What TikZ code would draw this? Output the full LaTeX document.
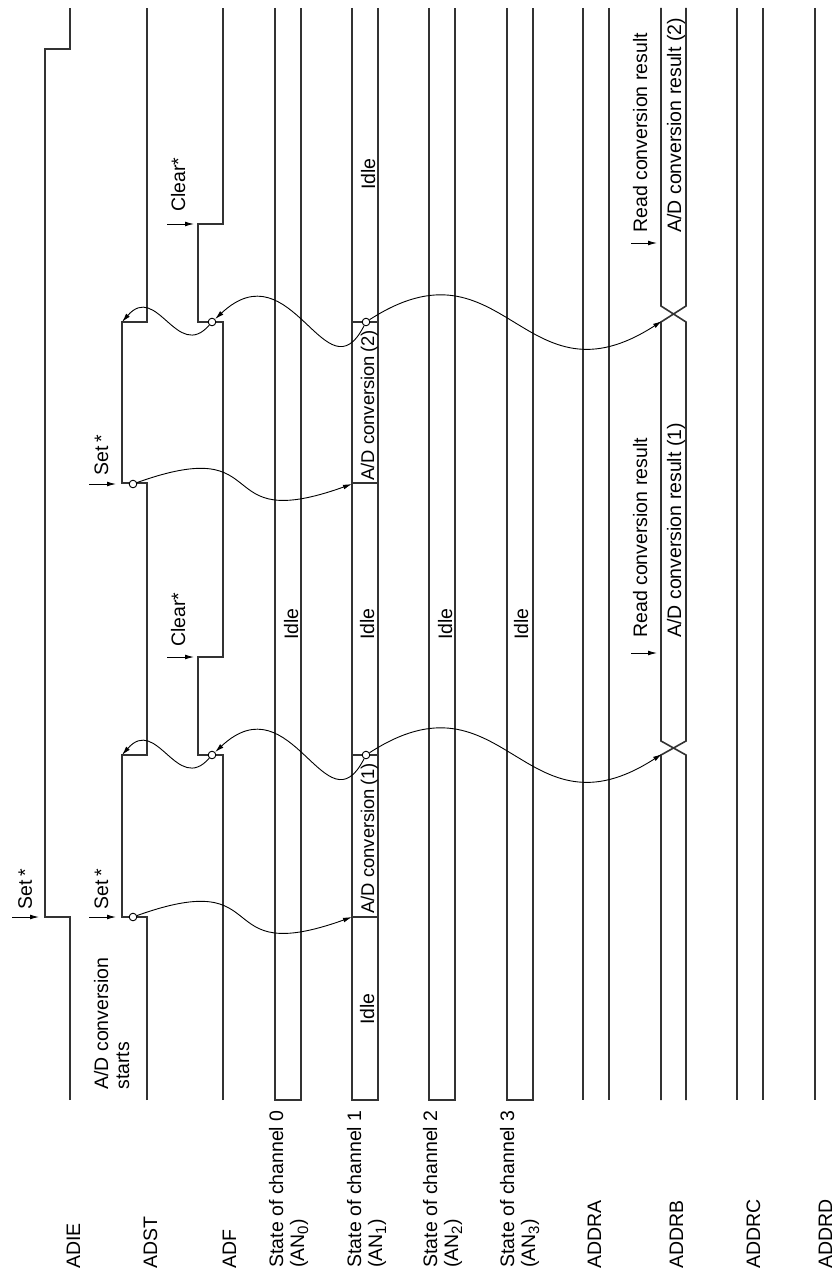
\documentclass[tikz,border=0pt]{standalone}
\usepackage{fontspec}
\setmainfont{Liberation Sans}
\usetikzlibrary{arrows.meta, calc}

\begin{document}
\begin{tikzpicture}[x=0.5pt, y=-0.5pt,
  font=\fontsize{9.75}{10.5}\selectfont,
  wave/.style={line width=0.8pt, draw=black!80},
  link/.style={line width=0.45pt, -{Latex[length=4.5pt,width=2.4pt]}},
  cue/.style={line width=0.45pt, -{Latex[length=4.5pt,width=2.4pt]}},
  ring/.style={circle, draw, line width=0.45pt, fill=white,
               inner sep=0pt, minimum size=3.8pt},
  vlabel/.style={rotate=90, anchor=base west, inner sep=0pt, align=left},
  convtext/.style={vlabel, font=\fontsize{9.2}{10.5}\selectfont}]

\useasboundingbox (0,0) rectangle (834,1273);

% ===== CONTROL BITS: ADIE, ADST, ADF =====
\draw[wave] (70,1100) -- (70,917) -- (45,917) -- (45,49) -- (70,49) -- (70,8);
\draw[wave] (147,1100) -- (147,917) -- (122,917) -- (122,755) -- (147,755)
   -- (147,483) -- (122,483) -- (122,322) -- (147,322) -- (147,8);
\draw[wave] (223,1100) -- (223,755) -- (198,755) -- (198,657) -- (223,657)
   -- (223,322) -- (198,322) -- (198,224) -- (223,224) -- (223,8);

% ===== CHANNEL STATES =====
\foreach \x in {275,352,429,507}
  \draw[wave] (\x,8) |- ({\x+26},1100) -- ({\x+26},8);
\foreach \y in {917,755,483,322}
  \draw[wave] (352,\y) -- (378,\y);

% ===== DATA REGISTERS =====
\foreach \x in {583,737}
  \draw[wave] (\x,8) -- (\x,1100) ({\x+26},8) -- ({\x+26},1100);
\draw[wave] (815,8) -- (815,1100);
\draw[wave] (661,1100) -- (661,755) -- (686,741) -- (686,322) -- (661,306) -- (661,8);
\draw[wave] (686,1100) -- (686,755) -- (661,741) -- (661,322) -- (686,306) -- (686,8);

% ===== EVENT POINTS =====
\node[ring] (stR1) at (133,917) {};
\node[ring] (flR1) at (212,755) {};
\node[ring] (cvR1) at (366,755) {};
\node[ring] (stR2) at (133,484) {};
\node[ring] (flR2) at (212,322) {};
\node[ring] (cvR2) at (366,322) {};
\coordinate (cvS1) at (352,917);
\coordinate (stC1) at (122,755);
\coordinate (rbX1) at (662,754);
\coordinate (cvS2) at (352,484);
\coordinate (stC2) at (122,322);
\coordinate (rbX2) at (662,321);

% ===== FIRST CONVERSION =====
\draw[link] (stR1) .. controls +(145,-52) and +(-145,52) .. (cvS1);
\draw[link] (flR1) .. controls +(-35,40) and +(35,-40) .. (stC1);
\draw[link] (cvR1) .. controls +(-40,78) and +(80,-75) .. (flR1);
\draw[link] (cvR1) .. controls +(139,-90) and +(-139,90) .. (rbX1);

% ===== SECOND CONVERSION =====
\draw[link] (stR2) .. controls +(145,-52) and +(-145,52) .. (cvS2);
\draw[link] (flR2) .. controls +(-35,40) and +(35,-40) .. (stC2);
\draw[link] (cvR2) .. controls +(-40,78) and +(80,-75) .. (flR2);
\draw[link] (cvR2) .. controls +(139,-90) and +(-139,90) .. (rbX2);

% ===== SET / CLEAR / READ CUES =====
\draw[cue] (12,917) -- (39,917);
\node[vlabel] (setIE) at (32,910) {Set\hspace{2pt}*};
\draw[cue] (89,917) -- (116,917);
\node[vlabel] (setST1) at (108,910) {Set\hspace{2pt}*};
\draw[cue] (167,657) -- (194,657);
\node[vlabel] (clrF1) at (185,647) {Clear*};
\draw[cue] (89,484) -- (116,484);
\node[vlabel] (setST2) at (108,476) {Set\hspace{2pt}*};
\draw[cue] (167,224) -- (194,224);
\node[vlabel] (clrF2) at (185,212) {Clear*};
\draw[cue] (631,653) -- (657,653);
\node[vlabel] (read1) at (647,638) {Read conversion result};
\draw[cue] (631,243) -- (657,243);
\node[vlabel] (read2) at (647,233) {Read conversion result};

% ===== STATE TEXTS =====
\node[vlabel] (idle0) at (298,640) {Idle};
\node[vlabel] (idle1a) at (374,1025) {Idle};
\node[convtext] (conv1) at (374,914) {A/D conversion\,(1)};
\node[vlabel] (idle1b) at (374,640) {Idle};
\node[convtext] (conv2) at (374,481) {A/D conversion\,(2)};
\node[vlabel] (idle1c) at (375,190) {Idle};
\node[vlabel] (idle2) at (452,640) {Idle};
\node[vlabel] (idle3) at (528,640) {Idle};
\node[vlabel] (res1) at (681,638) {A/D conversion result (1)};
\node[vlabel] (res2) at (681,233) {A/D conversion result (2)};
\node[vlabel] (start) at (129,1090) {A/D conversion\\starts};

% ===== SIGNAL NAMES =====
\node[vlabel] (nADIE) at (80,1269) {ADIE};
\node[vlabel] (nADST) at (157,1269) {ADST};
\node[vlabel] (nADF) at (236,1269) {ADF};
\node[vlabel] (nCh0) at (304,1268) {State of channel 0\\(AN\raisebox{-2pt}{\fontsize{7.5}{8}\selectfont 0})};
\node[vlabel] (nCh1) at (382,1268) {State of channel 1\\(AN\raisebox{-2pt}{\fontsize{7.5}{8}\selectfont 1})};
\node[vlabel] (nCh2) at (458,1268) {State of channel 2\\(AN\raisebox{-2pt}{\fontsize{7.5}{8}\selectfont 2})};
\node[vlabel] (nCh3) at (535,1268) {State of channel 3\\(AN\raisebox{-2pt}{\fontsize{7.5}{8}\selectfont 3})};
\node[vlabel] (nA) at (601,1269) {ADDRA};
\node[vlabel] (nB) at (683,1269) {ADDRB};
\node[vlabel] (nC) at (760,1269) {ADDRC};
\node[vlabel] (nD) at (832,1269) {ADDRD};
\end{tikzpicture}
\end{document}
